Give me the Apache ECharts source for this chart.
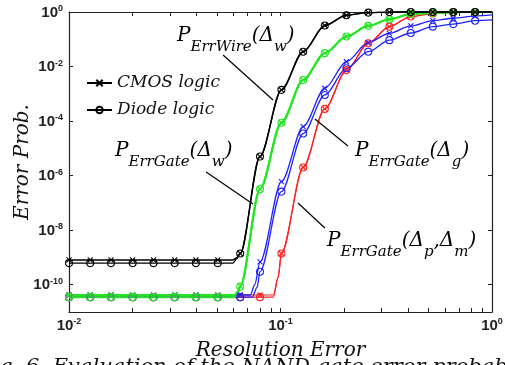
<!DOCTYPE html>
<html>
<head>
<meta charset="utf-8">
<script src="https://cdn.jsdelivr.net/npm/echarts@6.0.0/dist/echarts.min.js"></script>
<style>
  html, body { margin: 0; padding: 0; background: #fff; }
  #main { width: 505px; height: 365px; }
</style>
</head>
<body>
<div id="main"></div>
<script>
// resolution error where the markers sit (shared by all curves)
var xMark = [0.01, 0.0126, 0.0158, 0.02, 0.0251, 0.0316, 0.0398, 0.0505, 0.0645, 0.080,
             0.101, 0.128, 0.162, 0.205, 0.26, 0.327, 0.413, 0.525, 0.656, 0.832];
var xEnd = 1;

// P_ErrWire(Δw), black
var wireCmos  = [8.1e-10, 8.1e-10, 8.1e-10, 8.1e-10, 8.1e-10, 8.1e-10, 8.1e-10, 8.1e-10, 1.4e-9, 5e-6,
                 1.4e-3, 0.035, 0.32, 0.76, 0.95, 0.99, 1, 1, 1, 1];
var wireDiode = [6.2e-10, 6.2e-10, 6.2e-10, 6.2e-10, 6.2e-10, 6.2e-10, 6.2e-10, 6.2e-10, 1.4e-9, 5e-6,
                 1.4e-3, 0.035, 0.32, 0.76, 0.95, 0.99, 1, 1, 1, 1];
var wireCmosKnee  = [[0.0596, 8.1e-10], [0.0617, 9.5e-10]];
var wireDiodeKnee = [[0.0596, 6.2e-10], [0.0617, 8.5e-10]];

// P_ErrGate(Δw), green
var gateWCmos  = [4.2e-11, 4.2e-11, 4.2e-11, 4.2e-11, 4.2e-11, 4.2e-11, 4.2e-11, 4.2e-11, 9e-11, 3.2e-7,
                  8.7e-5, 3.2e-3, 0.031, 0.126, 0.31, 0.54, 0.85, 0.93, 0.98, 1];
var gateWDiode = [3.5e-11, 3.5e-11, 3.5e-11, 3.5e-11, 3.5e-11, 3.5e-11, 3.5e-11, 3.5e-11, 8.5e-11, 3.2e-7,
                  8.7e-5, 3.2e-3, 0.031, 0.126, 0.31, 0.54, 0.85, 0.93, 0.98, 1];
var gateWCmosKnee  = [[0.0605, 4.2e-11], [0.0628, 5.5e-11]];
var gateWDiodeKnee = [[0.0605, 3.5e-11], [0.0628, 4.8e-11]];

// P_ErrGate(Δg), blue
var gateGCmos  = [4.2e-11, 4.2e-11, 4.2e-11, 4.2e-11, 4.2e-11, 4.2e-11, 4.2e-11, 4.2e-11, 4.2e-11, 6.9e-10,
                  6e-7, 6.3e-5, 1.6e-3, 0.015, 0.076, 0.166, 0.31, 0.48, 0.59, 0.71];
var gateGDiode = [3.5e-11, 3.5e-11, 3.5e-11, 3.5e-11, 3.5e-11, 3.5e-11, 3.5e-11, 3.5e-11, 3.5e-11, 3e-10,
                  2.6e-7, 3.5e-5, 9.1e-4, 8.7e-3, 0.035, 0.093, 0.17, 0.29, 0.36, 0.48];
var gateGCmosKnee  = [[0.072, 4.2e-11], [0.0755, 1.0e-10]];
var gateGDiodeKnee = [[0.0735, 3.5e-11], [0.0775, 8e-11]];

// P_ErrGate(Δp,Δm), red
var gatePMCmos  = [4.2e-11, 4.2e-11, 4.2e-11, 4.2e-11, 4.2e-11, 4.2e-11, 4.2e-11, 4.2e-11, 4.2e-11, 4.2e-11,
                   1.4e-9, 2e-6, 2.8e-4, 7.4e-3, 0.071, 0.29, 0.68, 0.89, 0.96, 0.98];
var gatePMDiode = [3.5e-11, 3.5e-11, 3.5e-11, 3.5e-11, 3.5e-11, 3.5e-11, 3.5e-11, 3.5e-11, 3.5e-11, 3.5e-11,
                   1.4e-9, 2e-6, 2.8e-4, 7.4e-3, 0.071, 0.29, 0.68, 0.89, 0.96, 0.98];
var gatePMCmosKnee  = [[0.0925, 4.2e-11], [0.0975, 2e-10]];
var gatePMDiodeKnee = [[0.0925, 3.5e-11], [0.0975, 1.8e-10]];

// value at x = 1 (end of each line, no marker)
var endWire = 1, endGateW = 1, endGateGCmos = 0.78, endGateGDiode = 0.51, endGatePM = 1;

var xTicks = [0.01, 0.02, 0.03, 0.04, 0.05, 0.06, 0.07, 0.08, 0.09, 0.1,
              0.2, 0.3, 0.4, 0.5, 0.6, 0.7, 0.8, 0.9, 1];
var xLabels = [0.01, 0.1, 1];
var yTicks = [1e-10, 1e-8, 1e-6, 1e-4, 1e-2, 1];

// annotations (data coords)
var annotText = [
	'{m|P}{s|ErrWire}{m|(Δ}{s|w}{m|)}',
	'{m|P}{s|ErrGate}{m|(Δ}{s|w}{m|)}',
	'{m|P}{s|ErrGate}{m|(Δ}{s|g}{m|)}',
	'{m|P}{s|ErrGate}{m|(Δ}{s|p}{m|,Δ}{s|m}{m|)}'
];
var annotPos = [[0.0324, 0.31], [0.0165, 1.85e-5], [0.225, 1.85e-5], [0.166, 9.3e-9]];
var arrows = [
	[[0.0535, 0.0265], [0.0922, 5.9e-4]],
	[[0.0445, 1.36e-6], [0.0741, 9.1e-8]],
	[[0.2084, 1.22e-5], [0.1455, 1.19e-4]],
	[[0.162, 1.2e-8], [0.121, 9.9e-8]]
];

var CROSS = 'path://M0,0L10,10M10,0L0,10';
var SERIF = 'DejaVu Serif';

function buildData(ys, yEnd, knee) {
	var pts = [], i;
	for (i = 0; i < xMark.length; i++)
		pts.push({ value: [xMark[i], ys[i]] });
	for (i = 0; i < knee.length; i++)
		pts.push({ value: knee[i], symbol: 'none' });
	pts.push({ value: [xEnd, yEnd], symbol: 'none' });
	pts.sort(function(a, b) { return a.value[0] - b.value[0]; });
	return pts;
}

function curve(name, color, width, isCross, data) {
	return {
		name: name,
		type: 'line',
		data: data,
		smooth: 0.3,
		smoothMonotone: 'x',
		clip: false,
		symbol: isCross ? CROSS : 'circle',
		symbolSize: isCross ? 5 : 7,
		lineStyle: { color: color, width: width },
		itemStyle: {
			color: isCross ? color : 'rgba(0,0,0,0)',
			borderColor: color,
			borderWidth: 1.1
		},
		emphasis: { disabled: true },
		z: 2
	};
}

var tickFmt = function(v) {
	var e = Math.round(Math.log(v) / Math.LN10);
	return '{b|10}{s|' + e + '}';
};
var tickRich = {
	b: { fontFamily: 'Liberation Sans', fontWeight: 'bold', fontSize: 15, color: '#222',
		 lineHeight: 16, verticalAlign: 'bottom' },
	s: { fontFamily: 'Liberation Sans', fontWeight: 'bold', fontSize: 9, color: '#222',
		 lineHeight: 10, verticalAlign: 'top', padding: [0, 0, 10, 0] }
};
var boxLine = { show: true, lineStyle: { color: '#222', width: 1.2 } };

var myChart = echarts.init(document.getElementById('main'));

var series = [
	curve('redC', '#ff2020', 1.2, true, buildData(gatePMCmos, endGatePM, gatePMCmosKnee)),
	curve('redD', '#ff2020', 1.2, false, buildData(gatePMDiode, endGatePM, gatePMDiodeKnee)),
	curve('blueC', '#2020ff', 1.3, true, buildData(gateGCmos, endGateGCmos, gateGCmosKnee)),
	curve('blueD', '#2020ff', 1.3, false, buildData(gateGDiode, endGateGDiode, gateGDiodeKnee)),
	curve('greenC', '#22e622', 2, true, buildData(gateWCmos, endGateW, gateWCmosKnee)),
	curve('greenD', '#22e622', 2, false, buildData(gateWDiode, endGateW, gateWDiodeKnee)),
	curve('blackC', '#000', 1.4, true, buildData(wireCmos, endWire, wireCmosKnee)),
	curve('blackD', '#000', 1.4, false, buildData(wireDiode, endWire, wireDiodeKnee)),
	// legend only
	curve('CMOS logic', '#000', 1.2, true, []),
	curve('Diode logic', '#000', 1.2, false, [])
];

series[7].markLine = {
	silent: true,
	animation: false,
	symbol: ['none', 'arrow'],
	symbolSize: [0, 9],
	label: { show: false },
	lineStyle: { color: '#000', width: 1.2, type: 'solid' },
	data: arrows.map(function(a) { return [{ coord: a[0] }, { coord: a[1] }]; })
};

var option = {
	animation: false,
	backgroundColor: '#fff',
	grid: { left: 69, right: 13, top: 12, bottom: 53, outerBoundsMode: 'none', containLabel: false },
	legend: {
		data: ['CMOS logic', 'Diode logic'],
		orient: 'vertical',
		left: 81,
		top: 68,
		itemWidth: 25,
		itemHeight: 8,
		itemGap: 7,
		selectedMode: false,
		textStyle: { fontFamily: SERIF, fontStyle: 'italic', fontSize: 17, color: '#111', lineHeight: 20 }
	},
	xAxis: [{
		type: 'log', logBase: 10, min: 0.01, max: 1,
		position: 'bottom',
		name: 'Resolution Error',
		nameLocation: 'middle',
		nameGap: 18,
		nameTextStyle: { fontFamily: SERIF, fontStyle: 'italic', fontSize: 20, color: '#111' },
		axisLine: boxLine,
		axisTick: { inside: true, length: 4, customValues: xTicks, lineStyle: { color: '#222' } },
		axisLabel: { customValues: xLabels, formatter: tickFmt, rich: tickRich, margin: 5 },
		splitLine: { show: false },
		minorTick: { show: false }
	}, {
		type: 'log', logBase: 10, min: 0.01, max: 1,
		position: 'top',
		axisLine: boxLine,
		axisTick: { inside: true, length: 4, customValues: xTicks, lineStyle: { color: '#222' } },
		axisLabel: { show: false },
		splitLine: { show: false }
	}],
	yAxis: [{
		type: 'log', logBase: 10, min: 1e-11, max: 1,
		position: 'left',
		name: 'Error Prob.',
		nameLocation: 'middle',
		nameGap: 36,
		nameMoveOverlap: false,
		nameTextStyle: { fontFamily: SERIF, fontStyle: 'italic', fontSize: 20, color: '#111' },
		axisLine: boxLine,
		axisTick: { inside: true, length: 4, customValues: yTicks, lineStyle: { color: '#222' } },
		axisLabel: { customValues: yTicks, formatter: tickFmt, rich: tickRich, margin: 6 },
		splitLine: { show: false },
		minorTick: { show: false }
	}, {
		type: 'log', logBase: 10, min: 1e-11, max: 1,
		position: 'right',
		axisLine: boxLine,
		axisTick: { inside: true, length: 4, customValues: yTicks, lineStyle: { color: '#222' } },
		axisLabel: { show: false },
		splitLine: { show: false }
	}],
	series: series
};

myChart.setOption(option);

// text labels, placed from data coords
var annRich = {
	m: { fontFamily: SERIF, fontStyle: 'italic', fontSize: 20, lineHeight: 24, verticalAlign: 'top', color: '#111' },
	s: { fontFamily: SERIF, fontStyle: 'italic', fontSize: 15, lineHeight: 15, verticalAlign: 'top',
		 padding: [14, 0, 0, 0], color: '#111' }
};
var graphics = [];
for (var i = 0; i < annotText.length; i++) {
	var p = myChart.convertToPixel({ xAxisIndex: 0, yAxisIndex: 0 }, annotPos[i]);
	graphics.push({
		type: 'text', x: p[0], y: p[1], z: 10,
		style: { text: annotText[i], rich: annRich, align: 'left', verticalAlign: 'top' }
	});
}
// caption of the figure, cut by the bottom edge
graphics.push({
	type: 'text', x: -22, y: 357, z: 10,
	style: { text: 'Fig. 6. Evaluation of the NAND gate error probability based on',
		font: 'italic 21px "DejaVu Serif"', fill: '#111', align: 'left', verticalAlign: 'top' }
});
myChart.setOption({ graphic: graphics });
</script>
</body>
</html>
